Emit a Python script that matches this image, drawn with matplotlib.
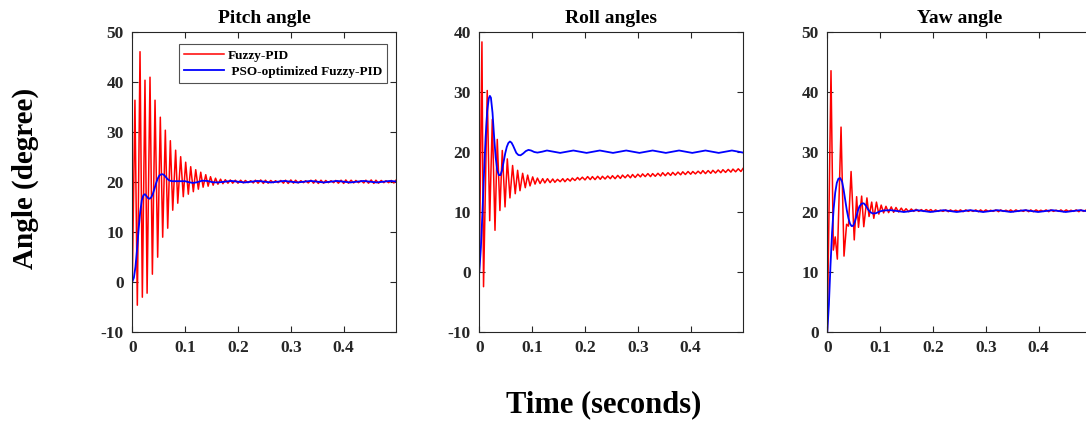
import numpy as np
import matplotlib
matplotlib.use('Agg')
import matplotlib.pyplot as plt

plt.rcParams['font.family'] = ['Liberation Serif', 'DejaVu Serif']
plt.rcParams['font.weight'] = 'bold'

# shared time stamps for the steady-state ripple of the Fuzzy-PID curves
t_tail = [0.200, 0.205, 0.210, 0.214, 0.219, 0.224, 0.229, 0.233, 0.238, 0.243,
          0.248, 0.252, 0.257, 0.262, 0.267, 0.271, 0.276, 0.281, 0.286, 0.290,
          0.295, 0.300, 0.305, 0.309, 0.314, 0.319, 0.324, 0.328, 0.333, 0.338,
          0.343, 0.347, 0.352, 0.357, 0.362, 0.366, 0.371, 0.376, 0.381, 0.385,
          0.390, 0.395, 0.400, 0.404, 0.409, 0.414, 0.419, 0.423, 0.428, 0.433,
          0.438, 0.442, 0.447, 0.452, 0.457, 0.461, 0.466, 0.471, 0.476, 0.480,
          0.485, 0.490, 0.495, 0.499]

# ---- Pitch angle ----
pitch_fuzzy_t = [0, 0.005, 0.0095, 0.0146, 0.019, 0.024, 0.028, 0.0335, 0.038, 0.043,
                 0.048, 0.053, 0.0575, 0.0625, 0.067, 0.072, 0.0765, 0.082, 0.086, 0.0915,
                 0.0965, 0.101, 0.106, 0.1105, 0.1155, 0.120, 0.125, 0.1295, 0.134, 0.139,
                 0.1435, 0.148, 0.153, 0.1575, 0.162, 0.167, 0.1715, 0.176, 0.181, 0.1855,
                 0.190, 0.195] + t_tail
pitch_fuzzy = [0, 36.3, -4.7, 46.0, -3.1, 40.3, -2.3, 40.9, 1.5, 36.3,
               4.9, 32.9, 8.9, 30.3, 10.7, 28.2, 14.3, 26.3, 15.7, 25.0,
               17.0, 23.9, 17.5, 23.0, 18.0, 22.4, 18.5, 21.9, 18.9, 21.4,
               19.1, 21.0, 19.3, 20.7, 19.5, 20.5, 19.6, 20.4, 19.7, 20.35,
               19.7, 20.3,
               19.7, 20.3, 19.75, 20.25, 19.8, 20.2, 19.75, 20.3, 19.7, 20.35,
               19.65, 20.3, 19.7, 20.25, 19.8, 20.2, 19.8, 20.25, 19.7, 20.3,
               19.65, 20.35, 19.7, 20.3, 19.75, 20.2, 19.8, 20.2, 19.75, 20.3,
               19.7, 20.35, 19.65, 20.3, 19.7, 20.25, 19.8, 20.2, 19.8, 20.25,
               19.7, 20.3, 19.65, 20.35, 19.7, 20.3, 19.75, 20.25, 19.8, 20.2,
               19.75, 20.3, 19.7, 20.35, 19.65, 20.3, 19.7, 20.25, 19.8, 20.2,
               19.8, 20.25, 19.75, 20.3]
pitch_pso_t = [0, 0.003, 0.006, 0.009, 0.012, 0.015, 0.018, 0.021, 0.024, 0.027,
               0.030, 0.033, 0.036, 0.039, 0.042, 0.045, 0.048, 0.051, 0.054, 0.057,
               0.060, 0.063, 0.066, 0.070, 0.075, 0.080, 0.090, 0.100, 0.107, 0.115,
               0.123, 0.132, 0.142, 0.152, 0.162, 0.175, 0.1875, 0.200, 0.2125, 0.225,
               0.2375, 0.250, 0.2625, 0.275, 0.2875, 0.300, 0.3125, 0.325, 0.3375, 0.350,
               0.3625, 0.375, 0.3875, 0.400, 0.4125, 0.425, 0.4375, 0.450, 0.4625, 0.475,
               0.4875, 0.499]
pitch_pso = [0, 0.8, 3.0, 6.5, 10.5, 14.0, 16.3, 17.3, 17.5, 17.1,
             16.7, 16.6, 16.9, 17.6, 18.6, 19.7, 20.6, 21.2, 21.45, 21.5,
             21.35, 21.0, 20.6, 20.25, 20.1, 20.1, 20.1, 20.1, 19.9, 19.75,
             19.9, 20.2, 20.15, 19.9, 19.85, 20.0, 20.15, 20.0, 19.85, 20.0,
             20.15, 20.0, 19.85, 20.0, 20.15, 20.0, 19.85, 20.0, 20.15, 20.0,
             19.85, 20.0, 20.15, 20.0, 19.85, 20.0, 20.15, 20.0, 19.85, 20.0,
             20.15, 20.05]

# ---- Roll angles ----
roll_fuzzy_t = [0, 0.005, 0.008, 0.015, 0.0197, 0.0246, 0.0297, 0.034, 0.039, 0.0435,
                0.0487, 0.053, 0.058, 0.063, 0.068, 0.0725, 0.077, 0.082, 0.087, 0.0915,
                0.096, 0.101, 0.1055, 0.110, 0.115, 0.120, 0.124, 0.129, 0.134, 0.139,
                0.143, 0.148, 0.153, 0.158, 0.162, 0.167, 0.172, 0.176, 0.181, 0.186,
                0.190, 0.195] + t_tail
roll_fuzzy = [0, 38.3, -2.5, 30.2, 8.5, 25.4, 6.9, 22.05, 10.2, 20.2,
              10.8, 18.8, 12.3, 17.7, 13.0, 16.9, 13.5, 16.4, 14.0, 16.1,
              14.3, 15.8, 14.6, 15.6, 14.7, 15.5, 14.8, 15.5, 14.85, 15.45,
              14.9, 15.4, 15.0, 15.5, 15.0, 15.5, 15.1, 15.6, 15.2, 15.7,
              15.3, 15.75,
              15.3, 15.85, 15.35, 15.85, 15.35, 15.9, 15.4, 15.9,
              15.45, 15.95, 15.5, 16.0, 15.5, 16.05, 15.55, 16.1,
              15.65, 16.15, 15.65, 16.2, 15.7, 16.25, 15.8, 16.3,
              15.85, 16.35, 15.85, 16.35, 15.9, 16.4, 15.95, 16.5,
              16.0, 16.5, 16.05, 16.55, 16.1, 16.6, 16.15, 16.65,
              16.2, 16.7, 16.25, 16.7, 16.3, 16.75, 16.35, 16.85,
              16.35, 16.85, 16.4, 16.9, 16.45, 16.95, 16.5, 17.0,
              16.55, 17.05, 16.6, 17.1, 16.65, 17.15, 16.7, 17.2]
roll_pso_t = [0, 0.003, 0.006, 0.009, 0.012, 0.015, 0.018, 0.020, 0.022, 0.025,
              0.028, 0.031, 0.034, 0.037, 0.040, 0.043, 0.046, 0.049, 0.052, 0.055,
              0.058, 0.061, 0.064, 0.067, 0.070, 0.074, 0.078, 0.083, 0.088, 0.093,
              0.098, 0.104, 0.110, 0.119, 0.128, 0.1405, 0.153, 0.1655, 0.178, 0.1905,
              0.203, 0.2155, 0.228, 0.2405, 0.253, 0.2655, 0.278, 0.2905, 0.303, 0.3155,
              0.328, 0.3405, 0.353, 0.3655, 0.378, 0.3905, 0.403, 0.4155, 0.428, 0.4405,
              0.453, 0.4655, 0.478, 0.4905, 0.499]
roll_pso = [0, 4.0, 10.0, 16.5, 22.5, 26.8, 28.9, 29.3, 29.0, 26.5,
            22.5, 19.0, 16.9, 16.1, 16.1, 16.9, 18.3, 19.7, 20.8, 21.45,
            21.7, 21.5, 21.0, 20.4, 19.8, 19.45, 19.4, 19.7, 20.1, 20.3,
            20.2, 19.95, 19.85, 20.0, 20.2, 20.0, 19.8, 20.0, 20.2, 20.0,
            19.8, 20.0, 20.2, 20.0, 19.8, 20.0, 20.2, 20.0, 19.8, 20.0,
            20.2, 20.0, 19.8, 20.0, 20.2, 20.0, 19.8, 20.0, 20.2, 20.0,
            19.8, 20.0, 20.2, 20.0, 19.85]

# ---- Yaw angle ----
yaw_fuzzy_t = [0, 0.007, 0.0114, 0.015, 0.019, 0.026, 0.0316, 0.0365, 0.040, 0.045,
               0.051, 0.0555, 0.059, 0.065, 0.069, 0.075, 0.079, 0.084, 0.088, 0.093,
               0.0975, 0.102, 0.1065, 0.111, 0.116, 0.121, 0.1255, 0.130, 0.135, 0.140,
               0.1445, 0.149, 0.154, 0.159, 0.1635, 0.168, 0.173, 0.178, 0.1825, 0.187,
               0.1915, 0.196] + t_tail
yaw_fuzzy = [0, 43.5, 13.6, 15.8, 12.1, 34.1, 12.6, 17.9, 17.6, 26.7,
             15.3, 22.5, 17.4, 22.6, 17.5, 22.3, 19.2, 21.6, 18.9, 21.6,
             19.6, 21.1, 19.8, 20.9, 19.85, 20.8, 19.9, 20.7, 19.95, 20.6,
             20.0, 20.5, 20.0, 20.45, 20.05, 20.4, 20.05, 20.35, 20.05, 20.35,
             20.1, 20.35,
             20.0, 20.3, 20.05, 20.25, 20.05, 20.3, 20.0, 20.3, 20.05, 20.25,
             20.05, 20.3, 20.0, 20.3, 20.05, 20.25, 20.05, 20.3, 20.0, 20.3,
             20.0, 20.3, 20.05, 20.25, 20.05, 20.3, 20.0, 20.3, 20.05, 20.25,
             20.05, 20.3, 20.0, 20.3, 20.05, 20.25, 20.05, 20.3, 20.0, 20.3,
             20.0, 20.3, 20.05, 20.25, 20.05, 20.3, 20.0, 20.3, 20.05, 20.25,
             20.05, 20.3, 20.0, 20.3, 20.05, 20.25, 20.05, 20.3, 20.0, 20.3,
             20.05, 20.3, 20.0, 20.3]
yaw_pso_t = [0, 0.003, 0.006, 0.009, 0.012, 0.015, 0.018, 0.021, 0.0245, 0.028,
             0.031, 0.034, 0.037, 0.040, 0.043, 0.046, 0.049, 0.052, 0.055, 0.058,
             0.061, 0.065, 0.069, 0.073, 0.077, 0.081, 0.086, 0.092, 0.098, 0.106,
             0.120, 0.133, 0.145, 0.158, 0.170, 0.183, 0.195, 0.208, 0.220, 0.233,
             0.245, 0.258, 0.270, 0.283, 0.295, 0.308, 0.322, 0.335, 0.347, 0.360,
             0.374, 0.387, 0.399, 0.412, 0.426, 0.439, 0.451, 0.464, 0.478, 0.490,
             0.499]
yaw_pso = [0, 4.5, 11.0, 16.5, 20.5, 23.2, 24.8, 25.5, 25.6, 25.0,
           23.6, 21.9, 20.2, 18.9, 18.0, 17.6, 17.65, 18.3, 19.2, 20.2,
           20.9, 21.35, 21.4, 21.0, 20.4, 19.95, 19.7, 19.75, 20.0, 20.2,
           20.25, 20.1, 19.95, 20.1, 20.25, 20.1, 19.95, 20.1, 20.25, 20.1,
           19.95, 20.1, 20.25, 20.1, 19.95, 20.1, 20.25, 20.1, 19.95, 20.1,
           20.25, 20.1, 19.95, 20.1, 20.25, 20.1, 19.95, 20.1, 20.25, 20.1,
           20.0]

titles = ['Pitch angle', 'Roll angles', 'Yaw angle']
ylims = [(-10, 50), (-10, 40), (0, 50)]
yticks = [[-10, 0, 10, 20, 30, 40, 50], [-10, 0, 10, 20, 30, 40], [0, 10, 20, 30, 40, 50]]
xticks = [0, 0.1, 0.2, 0.3, 0.4]
xticklabels = ['0', '0.1', '0.2', '0.3', '0.4']
series = [(pitch_fuzzy_t, pitch_fuzzy, pitch_pso_t, pitch_pso),
          (roll_fuzzy_t, roll_fuzzy, roll_pso_t, roll_pso),
          (yaw_fuzzy_t, yaw_fuzzy, yaw_pso_t, yaw_pso)]

W, H = 1086, 425
fig = plt.figure(figsize=(W / 100, H / 100), dpi=100)

lefts = [132.3, 479.3, 827.3]
ax_w, ax_h, ax_bottom = 263.7, 300.0, 425 - 331.7

for i in range(3):
    ax = fig.add_axes([lefts[i] / W, ax_bottom / H, ax_w / W, ax_h / H])
    ft, fv, pt, pv = series[i]
    ax.plot(ft, fv, color='#ff0000', lw=1.1, label='Fuzzy-PID')
    ax.plot(pt, pv, color='#0000ff', lw=1.3, label=' PSO-optimized Fuzzy-PID')
    ax.set_xlim(0, 0.499)
    ax.set_ylim(*ylims[i])
    ax.set_xticks(xticks)
    ax.set_xticklabels(xticklabels)
    ax.set_yticks(yticks[i])
    ax.set_yticklabels([str(v) for v in yticks[i]])
    # the yaw panel runs off the right edge of the figure, so no right ticks show
    ax.tick_params(direction='in', top=True, right=(i < 2), length=4, width=0.8,
                   labelsize=12.5, colors='#262626', pad=6)
    for lab in ax.get_xticklabels() + ax.get_yticklabels():
        lab.set_fontweight('bold')
        lab.set_color('#262626')
    for sp in ax.spines.values():
        sp.set_linewidth(0.8)
        sp.set_color('#262626')
    ax.set_title(titles[i], fontsize=14, fontweight='bold', pad=6)
    if i == 0:
        leg = ax.legend(loc='upper right', bbox_to_anchor=(0.966, 0.959),
                        prop={'family': 'Liberation Serif', 'weight': 'bold', 'size': 9.5},
                        frameon=True, fancybox=False, handlelength=3.0,
                        borderpad=0.4, labelspacing=0.3, handletextpad=0.3,
                        borderaxespad=0)
        leg.get_frame().set_edgecolor('#262626')
        leg.get_frame().set_linewidth(0.8)

fig.text(604 / W, 1 - 405 / H, 'Time (seconds)', ha='center', va='center',
         fontsize=22, fontweight='bold')
fig.text(25 / W, 1 - 178 / H, 'Angle (degree)', ha='center', va='center',
         rotation=90, fontsize=21, fontweight='bold')

fig.savefig('out.png', dpi=100)
